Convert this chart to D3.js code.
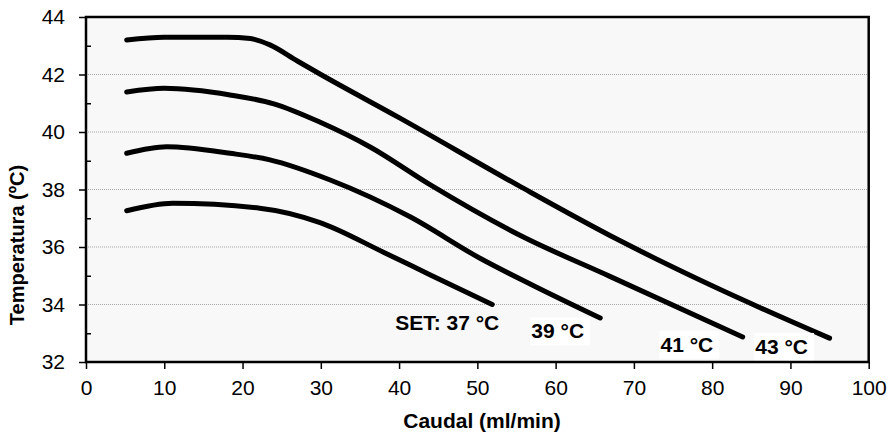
<!DOCTYPE html>
<html>
<head>
<meta charset="utf-8">
<script src="https://cdn.jsdelivr.net/npm/d3@7"></script>
<style>
body { margin: 0; background: #fff; }
svg { display: block; font-family: "Liberation Sans", Arial, sans-serif; }
.grid line { stroke: #a6a6a6; stroke-width: 1; stroke-dasharray: 1,1; }
.axis path { display: none; }
.axis line { stroke: #000; stroke-width: 1.5; }
.axis text { font-size: 21px; fill: #000; }
.curve { fill: none; stroke: #000; stroke-width: 5; stroke-linecap: round; stroke-linejoin: round; }
.set-label { font-size: 21px; font-weight: bold; }
.title { font-size: 21px; font-weight: bold; }
</style>
</head>
<body>
<div id="chart"></div>
<script>
// flow (ml/min) vs outlet temperature, one pair of arrays per set point
var caudal37 = [5.2, 11.1, 22.2, 29.9, 38, 44, 51.9];
var temp37   = [37.26, 37.52, 37.35, 36.85, 35.82, 35.03, 34.0];

var caudal39 = [5.2, 10.3, 18.4, 23.5, 31.2, 41.4, 50.4, 57, 65.7];
var temp39   = [39.26, 39.49, 39.26, 39.03, 38.33, 37.05, 35.6, 34.68, 33.53];

var caudal41 = [5.2, 10, 18.4, 24, 30, 36.3, 44, 55.5, 67, 83.9];
var temp41   = [41.39, 41.52, 41.29, 40.98, 40.33, 39.48, 38.16, 36.4, 34.97, 32.87];

var caudal43 = [5.2, 10, 18, 21, 23.5, 27, 30, 40, 55.5, 68, 80, 95];
var temp43   = [43.2, 43.3, 43.3, 43.25, 43.03, 42.47, 42.0, 40.5, 38.1, 36.25, 34.65, 32.83];

var setLabels = ["SET: 37 °C", "39 °C", "41 °C", "43 °C"];

// where each set label sits, in data units (caudal, temperatura)
var labelCaudal = [52.8, 56.9, 73.4, 85.5];
var labelTemp   = [33.11, 32.82, 32.36, 32.28];
var labelBoxed  = [false, true, true, true];

var xTicks = d3.range(0, 101, 10);
var yTicks = [32, 34, 36, 38, 40, 42, 44];
var yMinorTicks = [33, 35, 37, 39, 41, 43];
var gridTicks = [34, 36, 38, 40, 42];

var width = 889,
    height = 434;
var margin = {top: 17, right: 20.3, bottom: 72, left: 86};
var innerW = width - margin.left - margin.right,
    innerH = height - margin.top - margin.bottom;

var x = d3.scaleLinear().domain([0, 100]).range([0, innerW]);
var y = d3.scaleLinear().domain([32, 44]).range([innerH, 0]);

var series = [
    {caudal: caudal37, temp: temp37},
    {caudal: caudal39, temp: temp39},
    {caudal: caudal41, temp: temp41},
    {caudal: caudal43, temp: temp43}
];

var svg = d3.select("#chart").append("svg")
    .attr("width", width)
    .attr("height", height);

var g = svg.append("g")
    .attr("transform", "translate(" + margin.left + "," + margin.top + ")");

// plot background
g.append("rect")
    .attr("width", innerW)
    .attr("height", innerH)
    .attr("fill", "#f8f8f8");

// dotted horizontal gridlines
g.append("g")
    .attr("class", "grid")
    .selectAll("line")
    .data(gridTicks).enter().append("line")
    .attr("x1", 0)
    .attr("x2", innerW)
    .attr("y1", function(d) { return y(d); })
    .attr("y2", function(d) { return y(d); });

var line = d3.line()
    .x(function(d) { return x(d[0]); })
    .y(function(d) { return y(d[1]); })
    .curve(d3.curveMonotoneX);

g.selectAll("path.curve")
    .data(series).enter().append("path")
    .attr("class", "curve")
    .attr("d", function(s) {
        return line(s.caudal.map(function(c, i) { return [c, s.temp[i]]; }));
    });

// set point labels, three of them on a white box
var labels = g.selectAll("g.set-label")
    .data(setLabels).enter().append("g")
    .attr("class", "set-label");

labels.each(function(d, i) {
    var lg = d3.select(this);
    var t = lg.append("text")
        .attr("x", x(labelCaudal[i]))
        .attr("y", y(labelTemp[i]))
        .attr("text-anchor", labelBoxed[i] ? "start" : "end")
        .text(d);
    if (labelBoxed[i]) {
        var bb = t.node().getBBox();
        lg.insert("rect", "text")
            .attr("x", bb.x - 1)
            .attr("y", bb.y - 2)
            .attr("width", bb.width + 7)
            .attr("height", bb.height + 5)
            .attr("fill", "#fff");
    }
});

// frame
g.append("rect")
    .attr("width", innerW)
    .attr("height", innerH)
    .attr("fill", "none")
    .attr("stroke", "#000")
    .attr("stroke-width", 2.5);

g.append("g")
    .attr("class", "axis")
    .attr("transform", "translate(0," + innerH + ")")
    .call(d3.axisBottom(x).tickValues(xTicks).tickSize(7).tickPadding(11));

g.append("g")
    .attr("class", "axis")
    .call(d3.axisLeft(y).tickValues(yTicks).tickSize(7).tickPadding(14));

// minor ticks point inwards
g.append("g")
    .attr("class", "axis")
    .call(d3.axisLeft(y).tickValues(yMinorTicks).tickSize(-5).tickFormat(""));

svg.append("text")
    .attr("class", "title")
    .attr("transform", "translate(24,245) rotate(-90)")
    .attr("text-anchor", "middle")
    .style("font-size", "20px")
    .text("Temperatura (ºC)");

svg.append("text")
    .attr("class", "title")
    .attr("x", 482)
    .attr("y", 428)
    .attr("text-anchor", "middle")
    .text("Caudal (ml/min)");
</script>
</body>
</html>
